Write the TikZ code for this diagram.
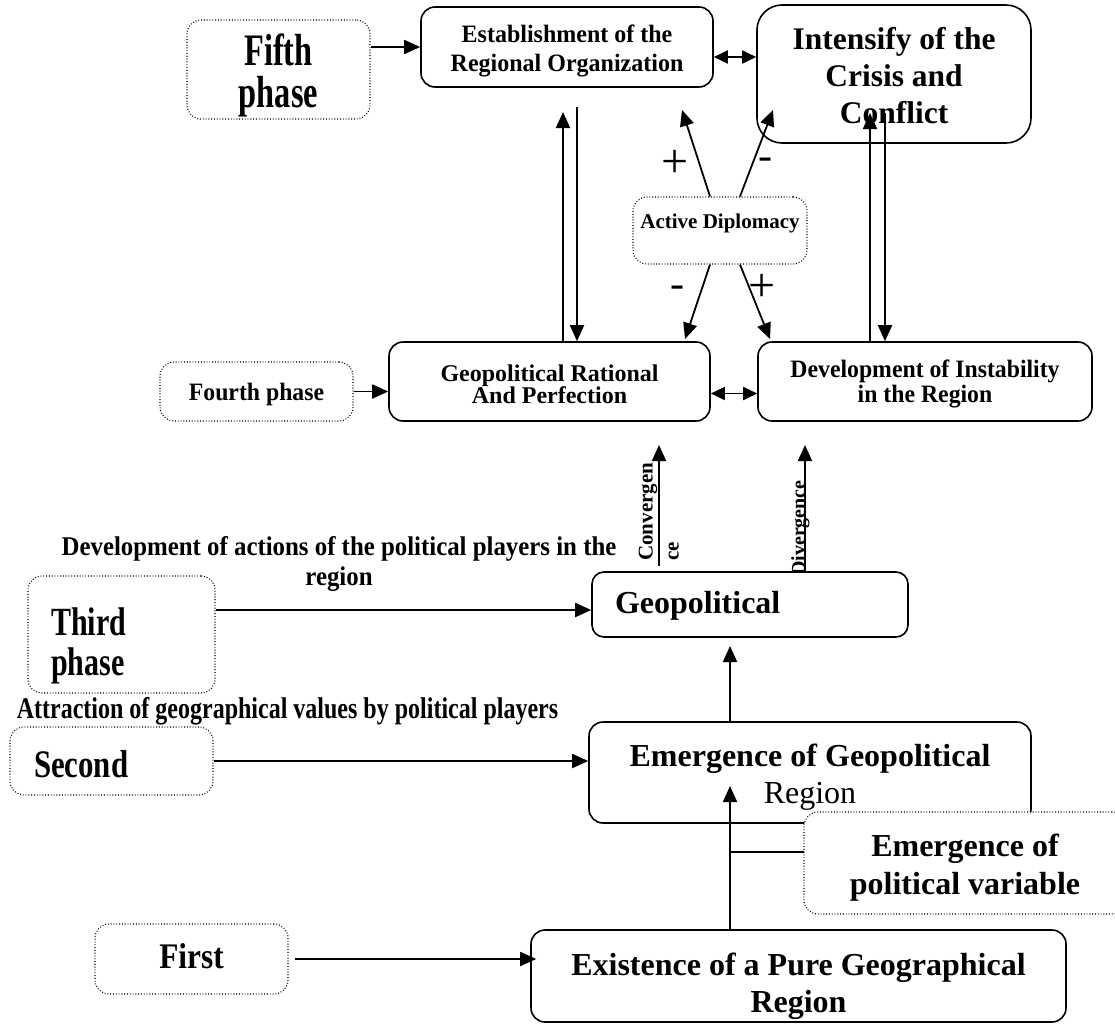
\documentclass[tikz,border=0pt]{standalone}
\usepackage{fontspec}
\usepackage{graphicx}
\setmainfont{Liberation Serif}
\usetikzlibrary{arrows.meta,calc}
\newcommand\sx[2]{\scalebox{#1}[1]{#2}}
\newcommand\fsz[2]{\fontsize{#1}{#2}\selectfont}
\begin{document}
\lineskiplimit=-100pt
\parindent=0pt
\begin{tikzpicture}[x=1pt,y=-1pt,
  box/.style={draw, line width=1.6pt, rounded corners=14pt, inner sep=0pt, align=center, fill=white},
  dbox/.style={draw, line width=1.1pt, dash pattern=on 0.9pt off 1.9pt, rounded corners=14pt, inner sep=0pt, align=center, fill=white},
  arr/.style={line width=1.8pt, -{Triangle[length=16pt,width=14pt]}},
  dbl/.style={line width=1.8pt, {Triangle[length=14pt,width=13pt]}-{Triangle[length=14pt,width=13pt]}},
  lbl/.style={inner sep=0pt, align=center},
  sign/.style={inner sep=0pt, font=\mdseries\fsz{48}{48}}
]
\useasboundingbox (0,0) rectangle (1115,1025);
\clip (0,0) rectangle (1115,1025);

% ---------- top row ----------
\node[dbox, minimum width=183pt, minimum height=99pt, font=\bfseries\fsz{45}{42}] (fifth) at (278.5,69.5)
  {\rule{0pt}{43pt}\sx{.72}{Fifth}\\\sx{.72}{phase}};
\node[box, minimum width=292pt, minimum height=80pt, font=\bfseries\fsz{25}{29}] (est) at (567,47)
  {\rule{0pt}{26.5pt}\sx{.96}{Establishment of the}\\\sx{.96}{Regional Organization}};
\node[box, rounded corners=25pt, minimum width=274pt, minimum height=138pt, font=\bfseries\fsz{31.5}{37}] (intens) at (894,74)
  {\rule{0pt}{25pt}Intensify of the\\Crisis and\\Conflict};

\node[dbox, minimum width=174pt, minimum height=67pt, text height=31pt, text depth=36pt, font=\bfseries\fsz{21}{21}] (diplo) at (720,230.5)
  {Active Diplomacy};

% ---------- fourth phase row ----------
\node[box, minimum width=321pt, minimum height=79pt, font=\bfseries\fsz{24}{22}] (georat) at (549.5,381.5)
  {\rule{0pt}{23pt}Geopolitical Rational\\And Perfection};
\node[box, minimum width=334pt, minimum height=79pt, font=\bfseries\fsz{25}{25}] (dev) at (925,381.5)
  {\rule{0pt}{23.5pt}\sx{.95}{Development of Instability}\\\sx{.95}{in the Region}};
\node[dbox, minimum width=193pt, minimum height=59pt, text height=22pt, text depth=5pt, font=\bfseries\fsz{25}{25}] (fourth) at (256.5,391.5)
  {\sx{.95}{Fourth phase}};

% ---------- rotated labels ----------
\node[lbl, rotate=90, anchor=south west, align=left, font=\bfseries\fsz{21}{26}] (conv) at (679,561) {Convergen\\ce};
\node[lbl, rotate=90, anchor=base west, font=\bfseries\fsz{20}{20}] (div) at (805,576) {Divergence};

% ---------- third phase row ----------
\node[box, rounded corners=12pt, minimum height=65pt, text width=270pt, inner xsep=23pt, align=left, text height=41pt, text depth=24pt, font=\bfseries\fsz{32}{32}] (geo) at (750,604.5)
  {Geopolitical};
\node[lbl, font=\bfseries\fsz{27}{30}] (devact) at (339,563.5)
  {\rule{0pt}{20pt}\sx{.92}{Development of actions of the political players in the}\\\sx{.92}{region}\rule[-7pt]{0pt}{7pt}};
\node[dbox, minimum height=117pt, text width=141pt, inner xsep=23pt, align=left, font=\bfseries\fsz{40}{40}] (third) at (121.5,634.5)
  {\rule{0pt}{50pt}\sx{.75}{Third}\\\sx{.75}{phase}};
\node[lbl, anchor=base, font=\bfseries\fsz{30}{30}] (attract) at (287.5,718)
  {\sx{.8}{Attraction of geographical values by political players}};

% ---------- second / first ----------
\node[dbox, minimum height=68pt, text width=155pt, inner xsep=24pt, align=left, text height=32pt, text depth=0pt, font=\bfseries\fsz{39}{39}] (second) at (111.5,761)
  {\sx{.79}{Second}};
\node[box, minimum width=442pt, minimum height=101pt, font=\bfseries\fsz{32}{37}] (emerg) at (810,772.5)
  {\rule{0pt}{31pt}Emergence of Geopolitical\\\mdseries Region};
\node[box, minimum width=535pt, minimum height=92pt, font=\bfseries\fsz{32}{37}] (exist) at (798.5,976)
  {\rule{0pt}{44pt}Existence of a Pure Geographical\\Region};
\node[dbox, minimum width=193pt, minimum height=70pt, text height=26pt, text depth=8pt, font=\bfseries\fsz{36}{36}] (first) at (191.5,959)
  {\sx{.87}{First}};

% ---------- coordinates for free arrow ends ----------
\coordinate (pA) at (682,110);
\coordinate (pB) at (773,110);
\coordinate (pC) at (685,339);
\coordinate (pD) at (770,339);
\coordinate (upA) at (563,112);
\coordinate (dnA) at (577,107);
\coordinate (upB) at (870,113);
\coordinate (dnB) at (885,113);
\coordinate (cvt) at (659,445);
\coordinate (dvt) at (805,445);
\coordinate (eg) at (730,646);
\coordinate (xe) at (730,786);
\coordinate (jn) at (730,852);

% ---------- connectors ----------
\draw[arr] (fifth.east |- est.west) -- (est.west);
\draw[dbl] ([yshift=-10pt]est.east) -- ([yshift=-10pt]est.east -| intens.west);

\draw[arr] ([xshift=-10pt]diplo.north) -- (pA);
\draw[arr] ([xshift=20pt]diplo.north) -- (pB);
\draw[arr] ([xshift=-10pt]diplo.south) -- (pC);
\draw[arr] ([xshift=20pt]diplo.south) -- (pD);

\draw[arr] (upA |- georat.north) -- (upA);
\draw[arr] (dnA) -- (dnA |- georat.north);
\draw[arr] (upB |- dev.north) -- (upB);
\draw[arr] (dnB) -- (dnB |- dev.north);

\draw[arr] (fourth.east) -- (fourth.east -| georat.west);
\draw[dbl] ([yshift=-12pt]georat.east) -- ([yshift=-12pt]georat.east -| dev.west);

\draw[arr] ([yshift=5pt]cvt |- geo.north) -- (cvt);
\draw[arr] (dvt |- geo.north) -- (dvt);

\draw[arr] ([yshift=-5.5pt]geo.west -| third.east) -- ([yshift=-5.5pt]geo.west);
\draw[arr] (second.east) -- (second.east -| emerg.west);
\draw[arr] (eg |- emerg.north) -- (eg);
\draw[arr] (xe |- exist.north) -- (xe);
\draw[line width=1.6pt] (jn) -- (jn -| 804,0);
\draw[arr] ([xshift=6pt]first.east) -- ([xshift=6pt]first.east -| exist.west);

% dotted box over the corner of the emergence box
\node[dbox, minimum width=322pt, minimum height=102pt, font=\bfseries\fsz{32}{38}] (polvar) at (965,863)
  {\rule{0pt}{31pt}Emergence of\\political variable};

% ---------- signs ----------
\node[sign] (s1) at (675,164) {+};
\node[sign, font=\mdseries\fsz{42}{42}, text height=19pt, text depth=0pt] (s2) at (765,160) {-};
\node[sign, font=\mdseries\fsz{42}{42}, text height=19pt, text depth=0pt] (s3) at (677,288) {-};
\node[sign] (s4) at (762,288) {+};
\end{tikzpicture}
\end{document}
